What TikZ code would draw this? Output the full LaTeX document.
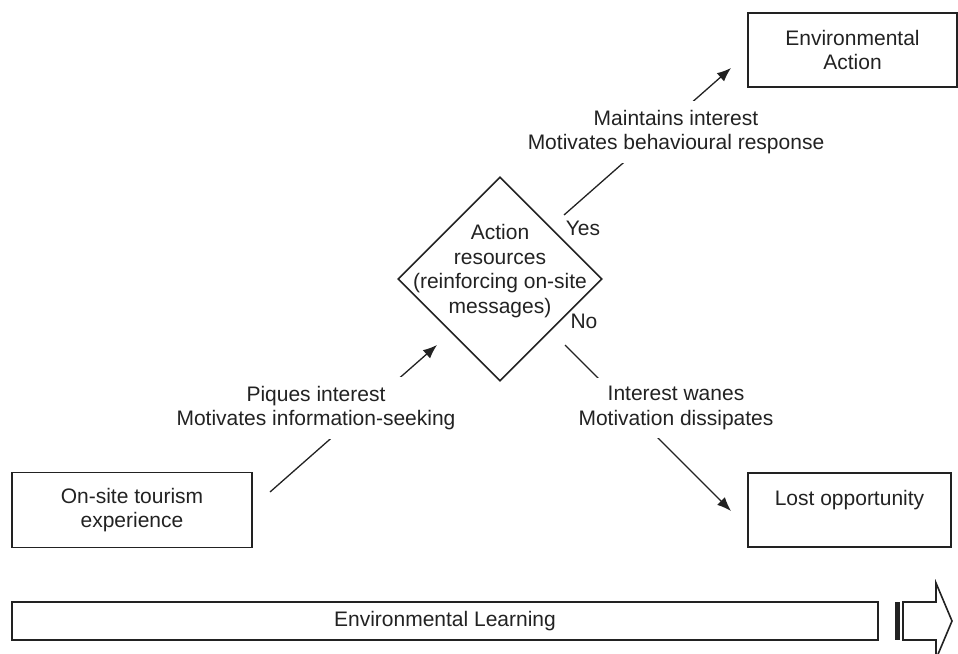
\documentclass[tikz,border=0pt]{standalone}
\usepackage{fontspec}
\setmainfont{Liberation Sans}
\usepackage{xcolor}
\usetikzlibrary{arrows, arrows.meta}
\usetikzlibrary{shapes.geometric}
\definecolor{ink}{RGB}{34,34,34}

\begin{document}
\begin{tikzpicture}[x=0.5pt,y=-0.5pt,
  font=\fontsize{10.5}{12.4}\selectfont, text=ink,
  box/.style={draw=ink, line width=0.8pt, align=center, inner sep=0pt},
  lbl/.style={align=center, inner sep=0pt},
  note/.style={align=center, fill=white, inner xsep=2pt, inner ysep=4.2pt},
  flow/.style={-{Latex[length=7pt,width=5.5pt]}, draw=ink, line width=0.65pt}]
\useasboundingbox (0,0) rectangle (958,653);

% boxes
\node[box, minimum width=120pt, minimum height=37.5pt] (onsite) at (132,510) {On-site tourism\\experience};
\node[box, minimum width=104.5pt, minimum height=37pt] (envaction) at (852.5,50) {Environmental\\Action};
\node[box, minimum width=101.5pt, minimum height=37pt] (lost) at (849.5,510) {Lost opportunity\\\mbox{}};

% decision
\node[diamond, draw=ink, line width=0.8pt, minimum width=102pt, minimum height=102pt, inner sep=0pt] (act) at (500,279) {};
\node[lbl] (acttext) at (500,271) {Action\\resources\\(reinforcing on-site\\messages)};
\node[lbl] (yes) at (583,228) {Yes};
\node[lbl] (no) at (584,321) {No};

% connectors
\coordinate (seekfrom) at (270,492);
\coordinate (seekto) at (437,345);
\coordinate (actfrom) at (564,215);
\coordinate (actto) at (731,68);
\coordinate (lostfrom) at (565,345);
\coordinate (lostto) at (731,511);
\draw[flow] (seekfrom) -- (seekto);
\draw[flow] (actfrom) -- (actto);
\draw[flow] (lostfrom) -- (lostto);

% labels sit on top of the connectors
\node[note] (pique) at (316,408) {Piques interest\\Motivates information-seeking};
\node[note] (maintain) at (676,132) {Maintains interest\\Motivates behavioural response};
\node[note] (wane) at (676,408) {Interest wanes\\Motivation dissipates};

% learning bar
\node[box, minimum width=433pt, minimum height=19pt] (learning) at (445,621) {Environmental Learning};
\fill[ink] (895,602) rectangle (900,640);
\draw[ink, line width=0.8pt] (903,602) -- (936,602) -- (936,583) -- (952,621)
  -- (936,659) -- (936,640) -- (903,640) -- cycle;

\end{tikzpicture}
\end{document}
